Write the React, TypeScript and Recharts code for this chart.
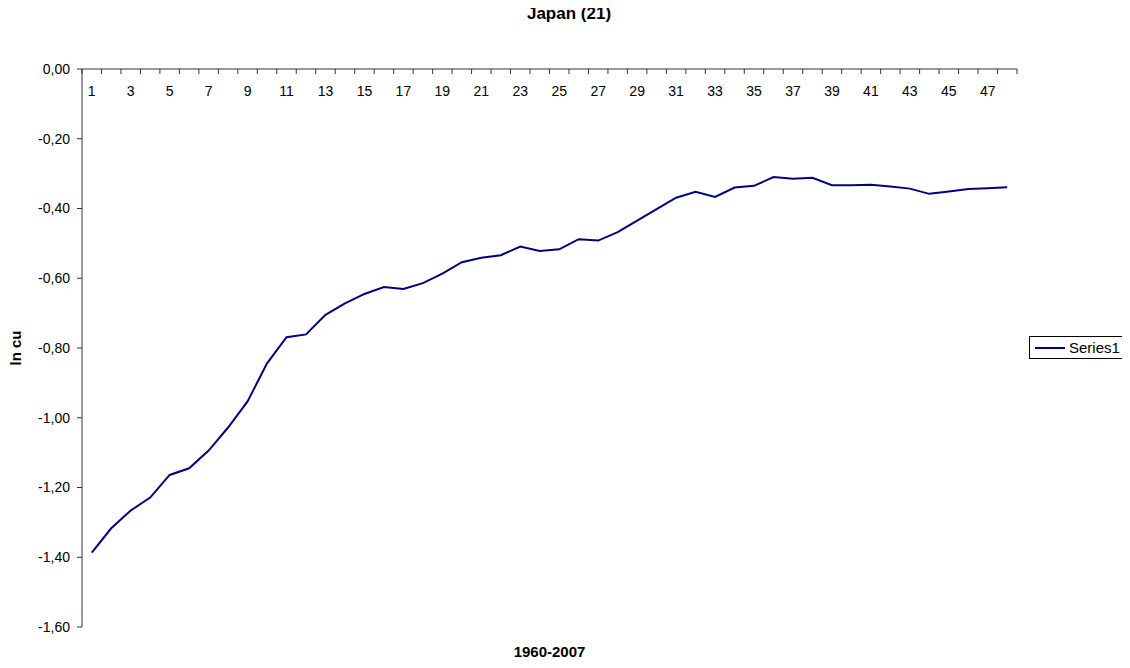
import React from 'react';
import { LineChart, Line, XAxis, YAxis, Legend, Label } from 'recharts';

// periods 1..48 stand for the years 1960-2007
const periods = [
  '1', '2', '3', '4', '5', '6', '7', '8', '9', '10', '11', '12',
  '13', '14', '15', '16', '17', '18', '19', '20', '21', '22', '23', '24',
  '25', '26', '27', '28', '29', '30', '31', '32', '33', '34', '35', '36',
  '37', '38', '39', '40', '41', '42', '43', '44', '45', '46', '47', '48',
];

const lnCu = [
  -1.387, -1.317, -1.266, -1.229, -1.164, -1.145, -1.094, -1.028, -0.953, -0.844, -0.769, -0.761,
  -0.705, -0.672, -0.645, -0.625, -0.631, -0.614, -0.587, -0.554, -0.541, -0.534, -0.509, -0.522,
  -0.517, -0.488, -0.492, -0.468, -0.435, -0.402, -0.369, -0.352, -0.367, -0.340, -0.335, -0.310,
  -0.315, -0.312, -0.333, -0.333, -0.332, -0.337, -0.343, -0.358, -0.351, -0.344, -0.342, -0.339,
];

const yTicks = [0, -0.2, -0.4, -0.6, -0.8, -1.0, -1.2, -1.4, -1.6];

const data = periods.map((p, i) => ({ period: p, value: lnCu[i] }));

const W = 1122;
const H = 660;
const MARGIN = { top: 60, right: 113, bottom: 41, left: 0 };
const Y_AXIS_W = 74;
const PLOT_W = W - MARGIN.right - Y_AXIS_W;
const BAND = PLOT_W / periods.length;
const AXIS = '#333';
const FONT = 'Arial, "Liberation Sans", sans-serif';

const XTick = (props: any) => {
  const { x, y, payload, index } = props;
  const odd = Number(payload.value) % 2 === 1;
  return (
    <g>
      <line x1={x - BAND / 2} x2={x - BAND / 2} y1={y} y2={y + 5} stroke={AXIS} />
      {index === periods.length - 1 && (
        <line x1={x + BAND / 2} x2={x + BAND / 2} y1={y} y2={y + 5} stroke={AXIS} />
      )}
      {odd && (
        <text
          x={x}
          y={y + 27}
          textAnchor="middle"
          fontSize={14}
          fontFamily={FONT}
          fill="#000"
          stroke="none"
        >
          {payload.value}
        </text>
      )}
    </g>
  );
};

const renderLegend = (props: any) => {
  const item = props.payload && props.payload[0];
  return (
    <div
      style={{
        border: '1px solid #000',
        display: 'flex',
        alignItems: 'center',
        padding: '2px 9px 2px 5px',
        fontFamily: FONT,
        fontSize: 15,
        lineHeight: '17px',
        background: '#fff',
        whiteSpace: 'nowrap',
      }}
    >
      <span style={{ display: 'inline-block', width: 30, borderTop: '2px solid #000080', marginRight: 4 }} />
      <span>{item ? item.value : 'Series1'}</span>
    </div>
  );
};

export default function App() {
  return (
    <div style={{ position: 'relative', width: W, height: H, fontFamily: FONT }}>
      <div
        style={{
          position: 'absolute',
          left: 0,
          width: W,
          top: -4,
          textAlign: 'center',
          fontWeight: 'bold',
          fontSize: 17,
        }}
      >
        Japan (21)
      </div>
      <LineChart width={W} height={H} data={data} margin={MARGIN}>
        <XAxis
          dataKey="period"
          type="category"
          scale="band"
          orientation="top"
          height={1}
          interval={0}
          tickSize={0}
          tickMargin={0}
          tickLine={false}
          axisLine={{ stroke: AXIS }}
          tick={<XTick />}
        />
        <YAxis
          type="number"
          domain={[-1.6, 0]}
          ticks={yTicks}
          width={Y_AXIS_W}
          tickSize={5}
          tickMargin={7}
          interval={0}
          allowDataOverflow
          axisLine={{ stroke: AXIS }}
          tickLine={{ stroke: AXIS }}
          tick={{ fontSize: 14, fontFamily: FONT, fill: '#000' }}
          tickFormatter={(v: number) => v.toFixed(2).replace('.', ',')}
        >
          <Label
            content={(p: any) => {
              const vb = p.viewBox || {};
              const cx = (vb.x || 0) + 7;
              const cy = (vb.y || 0) + (vb.height || 0) / 2;
              return (
                <text
                  x={cx}
                  y={cy}
                  transform={`rotate(-90 ${cx} ${cy})`}
                  textAnchor="middle"
                  dominantBaseline="central"
                  fontSize={15}
                  fontWeight="bold"
                  fontFamily={FONT}
                  fill="#000"
                >
                  ln cu
                </text>
              );
            }}
          />
        </YAxis>
        <Legend
          layout="vertical"
          align="center"
          verticalAlign="middle"
          content={renderLegend}
          wrapperStyle={{ left: 1021, top: 328, width: 'auto' }}
        />
        <Line
          type="linear"
          dataKey="value"
          name="Series1"
          stroke="#000080"
          strokeWidth={2}
          dot={false}
          isAnimationActive={false}
        />
      </LineChart>
      <div
        style={{
          position: 'absolute',
          left: Y_AXIS_W,
          width: PLOT_W,
          top: H - 25,
          textAlign: 'center',
          fontWeight: 'bold',
          fontSize: 15,
        }}
      >
        1960-2007
      </div>
    </div>
  );
}
